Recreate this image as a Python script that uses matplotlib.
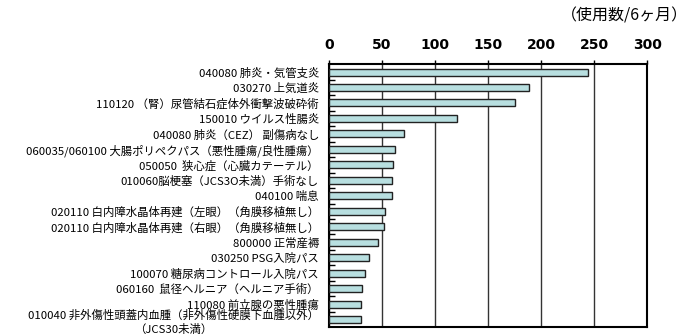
import numpy as np
import matplotlib
matplotlib.use('Agg')
import matplotlib.pyplot as plt

plt.rcParams['font.family'] = ['Noto Sans CJK JP', 'DejaVu Sans']

# data
labels = ['040080 肺炎・気管支炎',
          '030270 上気道炎',
          '110120 （腎）尿管結石症体外衝撃波破砕術',
          '150010 ウイルス性腸炎',
          '040080 肺炎（CEZ） 副傷病なし',
          '060035/060100 大腸ポリペクパス（悪性腫瘍/良性腫瘍）',
          '050050  狭心症（心臓カテーテル）',
          '010060脳梗塞（JCS3O未満）手術なし',
          '040100 喘息',
          '020110 白内障水晶体再建（左眼）（角膜移植無し）',
          '020110 白内障水晶体再建（右眼）（角膜移植無し）',
          '800000 正常産褥',
          '030250 PSG入院パス',
          '100070 糖尿病コントロール入院パス',
          '060160  鼠径ヘルニア（ヘルニア手術）',
          '110080 前立腺の悪性腫瘍',
          '010040 非外傷性頭蓋内血腫（非外傷性硬膜下血腫以外）\n（JCS30未満）']
counts = [244, 189, 175, 121, 71, 62, 61, 60, 60, 53, 52, 46, 38, 34, 31, 30, 30]
xticks = [0, 50, 100, 150, 200, 250, 300]

fig = plt.figure(figsize=(6.89, 3.34), dpi=100)
ax = fig.add_axes([328.7/689, 1-327.3/334, 318.6/689, 263/334])

y = np.arange(len(labels))
ax.barh(y, counts, height=0.45, color='#b8dfe0', edgecolor='#222222', linewidth=1.0, zorder=3)

ax.set_xlim(0, 300)
ax.set_ylim(len(labels)-0.5, -0.5)
ax.xaxis.tick_top()
ax.set_xticks(xticks)
ax.set_xticklabels([str(v) for v in xticks], fontsize=10, fontweight='bold', family='DejaVu Sans')
ax.tick_params(axis='x', length=3, width=1, pad=6)
ax.grid(axis='x', color='#333333', linewidth=1.0, zorder=1)

ax.set_yticks(y)
ax.set_yticklabels(labels, fontsize=8.2, linespacing=1.3)
ax.get_yticklabels()[-1].set_multialignment('center')
ax.tick_params(axis='y', length=0, pad=7)
ax.set_yticks(y[:-1]+0.5, minor=True)
ax.tick_params(axis='y', which='minor', direction='in', length=4, width=1)

for s in ax.spines.values():
    s.set_linewidth(1.5)
    s.set_color('black')

fig.text(0.999, 1-16/334, '（使用数/6ヶ月）', ha='right', va='center', fontsize=11.5)

fig.savefig('out.png', dpi=100)
